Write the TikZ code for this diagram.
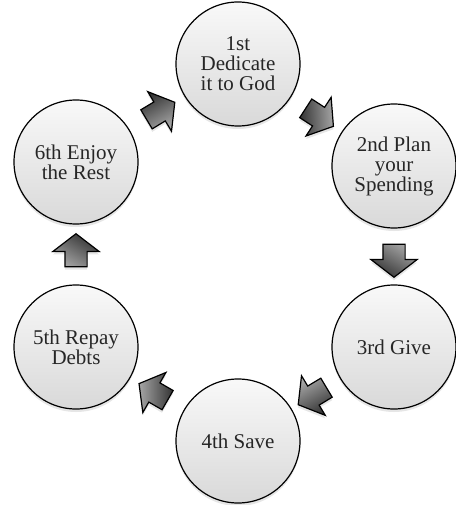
\documentclass[tikz,border=0pt]{standalone}
\usepackage{fontspec}
\setmainfont{Liberation Serif}
\usetikzlibrary{shapes.arrows,shadows}

\tikzset{
	stage/.style={circle, draw=black, line width=1.2pt, minimum size=124pt, inner sep=0pt,
		top color=gray!5, bottom color=gray!30, align=center, text=black!85,
		font=\fontsize{21}{20}\selectfont,
		drop shadow={opacity=0.2, shadow xshift=0pt, shadow yshift=-3pt}},
	cyclearrow/.style={single arrow, draw=black, line width=1.2pt,
		inner xsep=0pt, inner ysep=10.5pt,
		minimum height=33pt, minimum width=45pt,
		single arrow head extend=12pt, single arrow tip angle=105,
		top color=gray!70, bottom color=black!80, shading angle={-120-(#1)},
		rotate=#1,
		drop shadow={opacity=0.2, shadow xshift=0pt, shadow yshift=-3pt}}
}

\begin{document}
\begin{tikzpicture}[x=1pt, y=-1pt]
	\useasboundingbox (0,0) rectangle (455,505);
	% circles
	\node[stage] (s1) at (238,64) {1st\\Dedicate\\it to God};
	\node[stage] (s2) at (394,166) {2nd Plan\\your\\Spending};
	\node[stage] (s3) at (394,347) {3rd Give};
	\node[stage] (s4) at (238,441) {4th Save};
	\node[stage] (s5) at (76,347) {5th Repay\\Debts};
	\node[stage] (s6) at (76,162) {6th Enjoy\\the Rest};
	% arrows
	\path (s1) -- node[cyclearrow=-33] (a1) {} (s2);
	\path (s2) -- node[cyclearrow=-90] (a2) {} (s3);
	\path (s3) -- node[cyclearrow=-149] (a3) {} (s4);
	\path (s4) -- node[cyclearrow=150] (a4) {} (s5);
	\path (s5) -- node[cyclearrow=90] (a5) {} (s6);
	\path (s6) -- node[cyclearrow=31] (a6) {} (s1);
\end{tikzpicture}
\end{document}
